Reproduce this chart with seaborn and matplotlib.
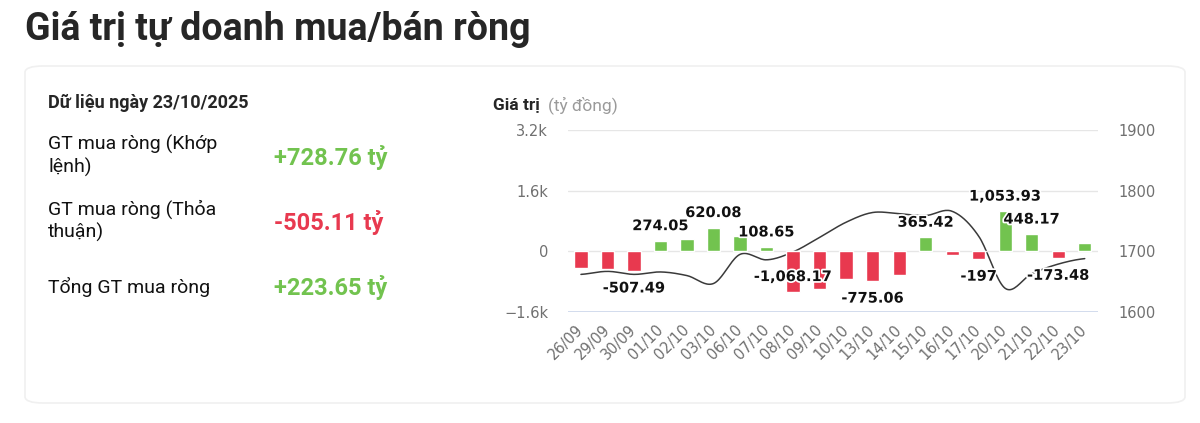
import numpy as np
import pandas as pd
import matplotlib
matplotlib.use("Agg")
import matplotlib.pyplot as plt
import matplotlib.patheffects as pe
from matplotlib.patches import FancyBboxPatch
import seaborn as sns

# Data
dates = ["26/09", "29/09", "30/09", "01/10", "02/10", "03/10", "06/10", "07/10",
         "08/10", "09/10", "10/10", "13/10", "14/10", "15/10", "16/10", "17/10",
         "20/10", "21/10", "22/10", "23/10"]
net_values = [-430, -455, -507.49, 274.05, 325, 620.08, 393, 108.65,
              -1068.17, -985, -723, -775.06, -630, 365.42, -95, -197,
              1053.93, 448.17, -173.48, 223.65]
vnindex = [1662, 1667, 1662, 1666, 1660, 1647, 1695, 1686,
           1699, 1723, 1748, 1764, 1762, 1759, 1766, 1725,
           1639, 1663, 1679, 1688]
labelled = ["30/09", "01/10", "03/10", "07/10", "08/10", "13/10", "15/10",
            "17/10", "20/10", "21/10", "22/10"]

summary_labels = ["GT mua ròng (Khớp\nlệnh)", "GT mua ròng (Thỏa\nthuận)", "Tổng GT mua ròng"]
summary_values = ["+728.76 tỷ", "-505.11 tỷ", "+223.65 tỷ"]

GREEN = "#72c34f"
RED = "#e8394f"

df = pd.DataFrame({"date": dates, "value": net_values, "index": vnindex})
df["color"] = np.where(df["value"] >= 0, GREEN, RED)

sns.set_style("white")
plt.rcParams["font.family"] = ["DejaVu Sans"]

fig = plt.figure(figsize=(12, 4.23), dpi=100)
W, H = 1200, 423


def fx(x):
    return x / W


def fy(y):
    return 1 - y / H


# card background
card = FancyBboxPatch((fx(25), fy(403)), fx(1185) - fx(25), fy(66) - fy(403),
                      boxstyle="round,pad=0,rounding_size=0.015",
                      transform=fig.transFigure, facecolor="white",
                      edgecolor="#f0f0f0", linewidth=1.2, zorder=-5)
fig.patches.append(card)

# title
fig.text(fx(25), fy(30), "Giá trị tự doanh mua/bán ròng", fontsize=27,
         fontweight="bold", family="Roboto", va="center", ha="left")

# left summary panel
fig.text(fx(48), fy(103), "Dữ liệu ngày 23/10/2025", fontsize=13,
         fontweight="bold", family="Roboto", va="center")
label_y = [156, 221, 287]
for lab, val, y in zip(summary_labels, summary_values, label_y):
    fig.text(fx(48), fy(y), lab, fontsize=14, family="Roboto", va="center",
             linespacing=1.25, color="#111111")
    col = RED if val.startswith("-") else GREEN
    fig.text(fx(274), fy(y + 1), val, fontsize=17, fontweight="bold",
             family="Roboto", va="center", color=col)

# chart header
fig.text(fx(493), fy(105), "Giá trị", fontsize=12.5, fontweight="bold",
         family="Roboto", va="center")
fig.text(fx(548), fy(105), "(tỷ đồng)", fontsize=12.5, family="Roboto",
         va="center", color="#9a9a9a")

ax = fig.add_axes([fx(567.7), fy(312), fx(1098) - fx(567.7), fy(130) - fy(312)])
sns.barplot(data=df, x="date", y="value", hue="date", palette=list(df["color"]),
            legend=False, width=0.5, saturation=1, ax=ax, zorder=3)
ax.set_xlim(-0.5, len(dates) - 0.5)
ax.set_ylim(-1600, 3200)
ax.set_yticks([-1600, 0, 1600, 3200])
ax.set_yticklabels(["\u22121.6k", "0", "1.6k", "3.2k"])
ax.grid(axis="y", color="#e6e6e6", linewidth=1, zorder=0)
ax.axhline(-1600, color="#ccd6eb", linewidth=1.2, zorder=1)
ax.set_xlabel("")
ax.set_ylabel("")
ax.tick_params(axis="y", length=0, pad=14, labelsize=10.5, labelcolor="#707070")
ax.tick_params(axis="x", length=0, pad=11, labelsize=10.5, labelcolor="#707070")
for t in ax.get_xticklabels():
    t.set_rotation(45)
    t.set_ha("right")
    t.set_va("center")
    t.set_rotation_mode("anchor")
for s in ax.spines.values():
    s.set_visible(False)

# data labels
for i, row in df.iterrows():
    if row["date"] not in labelled:
        continue
    v = row["value"]
    if row["date"] == "08/10":
        off = 11
    else:
        off = 11 if v >= 0 else -12.5
    txt = f"{v:,.2f}"
    if txt.endswith(".00"):
        txt = txt[:-3]
    ax.annotate(txt, (i, v), xytext=(0, off), textcoords="offset points",
                ha="center", va="center", fontsize=10.5, fontweight="bold",
                color="#111111", zorder=6,
                path_effects=[pe.withStroke(linewidth=2.5, foreground="white")])

# VN-Index line on secondary axis, drawn as a smooth curve
ax2 = ax.twinx()
xs = np.arange(len(vnindex), dtype=float)
ys = np.array(vnindex, dtype=float)
px = np.concatenate([[xs[0]], xs, [xs[-1]]])
py = np.concatenate([[ys[0]], ys, [ys[-1]]])
cx, cy = [], []
for k in range(1, len(px) - 2):
    t = np.linspace(0, 1, 20, endpoint=False)
    p0, p1, p2, p3 = py[k - 1], py[k], py[k + 1], py[k + 2]
    cy.append(0.5 * (2 * p1 + (-p0 + p2) * t + (2 * p0 - 5 * p1 + 4 * p2 - p3) * t ** 2
                     + (-p0 + 3 * p1 - 3 * p2 + p3) * t ** 3))
    cx.append(px[k] + t * (px[k + 1] - px[k]))
cx.append([xs[-1]])
cy.append([ys[-1]])
curve = pd.DataFrame({"x": np.concatenate(cx), "y": np.concatenate(cy)})
sns.lineplot(data=curve, x="x", y="y", ax=ax2, color="#3a3a3a", linewidth=1.1,
             sort=False, zorder=4)
ax2.set_ylim(1600, 1900)
ax2.set_yticks([1600, 1700, 1800, 1900])
ax2.set_ylabel("")
ax2.tick_params(axis="y", length=0, pad=15, labelsize=10.5, labelcolor="#707070")
for s in ax2.spines.values():
    s.set_visible(False)
ax.set_zorder(ax2.get_zorder() + 1)
ax.patch.set_visible(False)

fig.savefig("out.png", dpi=100, facecolor="white")
